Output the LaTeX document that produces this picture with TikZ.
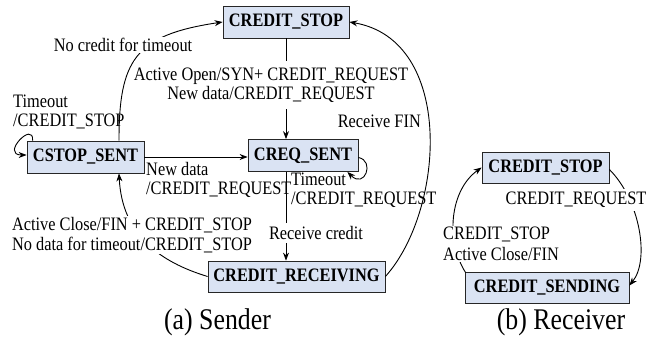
\documentclass[tikz,border=0pt]{standalone}
\usepackage{fontspec}
\setmainfont{Liberation Serif}[FakeStretch=0.86]
\usetikzlibrary{arrows.meta,calc}
\definecolor{boxfill}{HTML}{DAE3F3}
\begin{document}
\begin{tikzpicture}[x=1pt,y=-1pt,
  state/.style={draw=black!85, fill=boxfill, line width=0.8pt, minimum height=32pt, inner sep=0pt,
    font=\fontsize{19}{21}\selectfont\bfseries},
  lbl/.style={font=\fontsize{19}{19.5}\selectfont, inner sep=1pt},
  captext/.style={font=\fontsize{30}{30}\selectfont, inner sep=0pt},
  arr/.style={-{Stealth[length=8pt,width=6pt]}, line width=0.9pt},
  wbg/.style={fill=white}]
\useasboundingbox (0,0) rectangle (658,343);

% sender states
\node[state, minimum width=126pt] (stop) at (286,22) {CREDIT\_STOP};
\node[state, minimum width=117pt] (cs) at (85.5,157) {CSTOP\_SENT};
\node[state, minimum width=110pt] (cq) at (303,155.5) {CREQ\_SENT};
\node[state, minimum width=177pt, minimum height=31pt] (cr) at (296.5,276.5) {CREDIT\_RECEIVING};

% receiver states
\node[state, minimum width=127pt, minimum height=31pt] (rs) at (545.5,167.5) {CREDIT\_STOP};
\node[state, minimum width=164pt, minimum height=31pt] (rd) at (547,287.5) {CREDIT\_SENDING};

% sender transitions
\draw[arr] (stop.south) -- (stop.south |- cq.north);
\draw[arr] (cr.east) .. controls (445,210) and (455,40) .. (stop.east);
\draw[arr] ($(cs.north)+(33.5,0)$) .. controls (119,60) and (135,35) .. (stop.west);
\draw[arr] ($(cs.north west)+(6,0)$) .. controls (34,120) and (0,155) .. ($(cs.west)+(0,-2)$);
\draw[arr] (cs.east) -- (cs.east -| cq.west);
\draw[arr] (stop.south |- cq.south) -- (stop.south |- cr.north);
\draw[arr] ($(cq.east)+(0,2)$) .. controls (375,160.5) and (365,189.5) .. ($(cq.south east)+(-11,0)$);
\draw[arr] (cr.west) .. controls (160,262) and (122,235) .. ($(cs.south)+(33.5,0)$);

% receiver transitions
\draw[arr] ($(rs.east)+(0,2)$) .. controls (640,200) and (650,260) .. ($(rd.east)+(0,-2)$);
\draw[arr] ($(rd.north west)+(1,1)$) .. controls (445,240) and (450,190) .. (rs.west);

% sender labels
\node[lbl, wbg, align=center, inner ysep=6pt, inner xsep=0pt] (l1) at (271,85)
  {Active Open/SYN+ CREDIT\_REQUEST\\New data/CREDIT\_REQUEST};
\node[lbl, wbg] (l2) at (123,45) {No credit for timeout};
\node[lbl, anchor=east] (l3) at (422,121) {Receive FIN};
\node[lbl, align=left, anchor=west] (l4) at (12,112) {Timeout\\/CREDIT\_STOP};
\node[lbl, align=left, anchor=west] (l5) at (145,180) {New data\\/CREDIT\_REQUEST};
\node[lbl, align=left, anchor=west] (l6) at (290,190) {Timeout\\/CREDIT\_REQUEST};
\node[lbl, wbg, inner ysep=3pt] (l7) at (316,233) {Receive credit};
\node[lbl, wbg, align=center] (l8) at (132,235)
  {Active Close/FIN + CREDIT\_STOP\\No data for timeout/CREDIT\_STOP};

% receiver labels
\node[lbl, wbg, inner ysep=3pt] (r1) at (576,200) {CREDIT\_REQUEST};
\node[lbl, wbg, align=left, anchor=west] (r2) at (442,244) {CREDIT\_STOP\\[2pt]Active Close/FIN};

% captions
\node[captext] (ca) at (217.5,322) {(a) Sender};
\node[captext] (cb) at (561,322) {(b) Receiver};
\end{tikzpicture}
\end{document}
